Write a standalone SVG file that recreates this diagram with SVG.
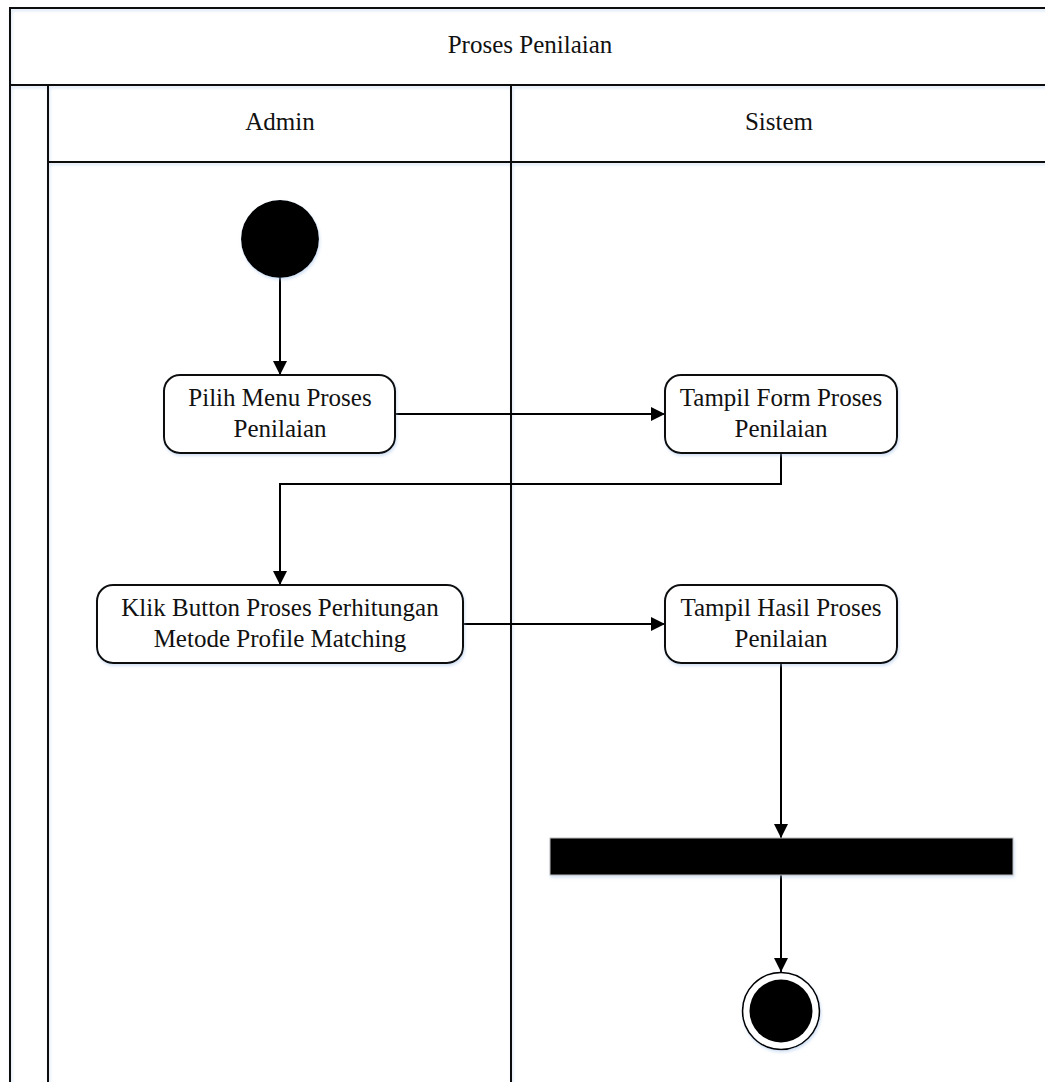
<svg xmlns="http://www.w3.org/2000/svg" width="1045" height="1082" viewBox="0 0 1045 1082">
  <style>
    .lane { stroke: #111; stroke-width: 2; fill: none; }
    .act { fill: #fff; stroke: #111; stroke-width: 2; }
    .lbl { font-family: "Liberation Serif", "Times New Roman", serif; font-size: 25px; fill: #111; text-anchor: middle; }
    .edge { stroke: #000; stroke-width: 2; fill: none; marker-end: url(#arrow); }
  </style>
  <defs>
    <marker id="arrow" markerUnits="userSpaceOnUse" markerWidth="14" markerHeight="14" refX="14" refY="7" orient="auto">
      <path d="M0,0 L14,7 L0,14 z" fill="#000"/>
    </marker>
    <filter id="glow" x="-10%" y="-10%" width="120%" height="130%">
      <feDropShadow dx="1" dy="2" stdDeviation="1.5" flood-color="#9dbde6" flood-opacity="0.45"/>
    </filter>
  </defs>

  <rect width="1045" height="1082" fill="#fff"/>

  <!-- swimlane frame -->
  <g id="pool" filter="url(#glow)">
    <path class="lane" d="M1046,8 H10 V1083"/>
    <path class="lane" d="M10,85 H1046"/>
    <path class="lane" d="M48,85 V1083"/>
    <path class="lane" d="M48,162 H1046"/>
    <path class="lane" d="M511,85 V1083"/>
  </g>
  <g id="pool-labels">
    <text class="lbl" x="530" y="53">Proses Penilaian</text>
    <text class="lbl" x="280" y="130">Admin</text>
    <text class="lbl" x="779" y="130">Sistem</text>
  </g>

  <!-- connectors -->
  <g id="connectors">
    <path class="edge" d="M280,278 V375"/>
    <path class="edge" d="M396,414 H665"/>
    <path class="edge" d="M781,453 V484 H280 V585"/>
    <path class="edge" d="M463,624 H665"/>
    <path class="edge" d="M781,663 V838"/>
    <path class="edge" d="M781,875 V972"/>
  </g>

  <!-- nodes -->
  <g id="start" filter="url(#glow)">
    <circle cx="280" cy="239" r="39" fill="#000"/>
  </g>

  <g id="pilih-menu">
    <rect class="act" x="164" y="375" width="231" height="78" rx="16" filter="url(#glow)"/>
    <text class="lbl" x="280" y="406">Pilih Menu Proses</text>
    <text class="lbl" x="280" y="437">Penilaian</text>
  </g>

  <g id="tampil-form">
    <rect class="act" x="665" y="375" width="232" height="78" rx="16" filter="url(#glow)"/>
    <text class="lbl" x="781" y="406">Tampil Form Proses</text>
    <text class="lbl" x="781" y="437">Penilaian</text>
  </g>

  <g id="klik-button">
    <rect class="act" x="97" y="585" width="366" height="78" rx="16" filter="url(#glow)"/>
    <text class="lbl" x="280" y="616">Klik Button Proses Perhitungan</text>
    <text class="lbl" x="280" y="647">Metode Profile Matching</text>
  </g>

  <g id="tampil-hasil">
    <rect class="act" x="665" y="585" width="232" height="78" rx="16" filter="url(#glow)"/>
    <text class="lbl" x="781" y="616">Tampil Hasil Proses</text>
    <text class="lbl" x="781" y="647">Penilaian</text>
  </g>

  <g id="join-bar" filter="url(#glow)">
    <rect x="550" y="838" width="463" height="37" fill="#000" stroke="#bbb" stroke-width="1"/>
  </g>

  <g id="end" filter="url(#glow)">
    <circle cx="781" cy="1011" r="38.5" fill="#fff" stroke="#000" stroke-width="1.6"/>
    <circle cx="781" cy="1011" r="31.5" fill="#000"/>
  </g>
</svg>
